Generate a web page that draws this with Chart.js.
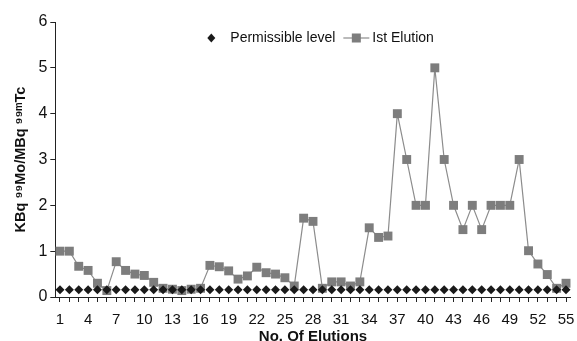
<!DOCTYPE html>
<html>
<head>
<meta charset="utf-8">
<script src="https://cdn.jsdelivr.net/npm/chart.js@4"></script>
<style>
  body { margin: 0; background: #fff; }
  #wrap { width: 577px; height: 341px; }
</style>
</head>
<body>
<div id="wrap"><canvas id="elution-chart"></canvas></div>
<script>
const elutions = [];
for (let i = 1; i <= 55; i++) elutions.push(String(i));

const permissibleLevel = [
    0.16, 0.16, 0.16, 0.16, 0.16, 0.16, 0.16, 0.16, 0.16, 0.16,
    0.16, 0.16, 0.16, 0.16, 0.16, 0.16, 0.16, 0.16, 0.16, 0.16,
    0.16, 0.16, 0.16, 0.16, 0.16, 0.16, 0.16, 0.16, 0.16, 0.16,
    0.16, 0.16, 0.16, 0.16, 0.16, 0.16, 0.16, 0.16, 0.16, 0.16,
    0.16, 0.16, 0.16, 0.16, 0.16, 0.16, 0.16, 0.16, 0.16, 0.16,
    0.16, 0.16, 0.16, 0.16, 0.16
];

const firstElution = [
    1.0, 1.0, 0.67, 0.58, 0.3, 0.14, 0.77, 0.58, 0.5, 0.47,
    0.32, 0.19, 0.17, 0.14, 0.17, 0.19, 0.69, 0.66, 0.57, 0.39,
    0.46, 0.65, 0.53, 0.5, 0.42, 0.24, 1.72, 1.65, 0.19, 0.33,
    0.33, 0.24, 0.33, 1.51, 1.3, 1.33, 4.0, 3.0, 2.0, 2.0,
    5.0, 3.0, 2.0, 1.47, 2.0, 1.47, 2.0, 2.0, 2.0, 3.0,
    1.01, 0.72, 0.49, 0.19, 0.3
];

const yTicks = [0, 1, 2, 3, 4, 5, 6];

Chart.defaults.font.family = '"Liberation Sans", Arial, sans-serif';
Chart.defaults.color = '#111';

// legend drawn inside the plot, near the top
const insideLegend = {
    id: 'insideLegend',
    afterDraw(chart) {
        const ctx = chart.ctx;
        const area = chart.chartArea;
        const y = area.top + 16;
        let x = area.left + 156;
        ctx.save();
        ctx.font = '14px "Liberation Sans", Arial, sans-serif';
        ctx.textBaseline = 'middle';

        // diamond
        ctx.fillStyle = '#1a1a1a';
        ctx.beginPath();
        ctx.moveTo(x, y - 4.5);
        ctx.lineTo(x + 4, y);
        ctx.lineTo(x, y + 4.5);
        ctx.lineTo(x - 4, y);
        ctx.closePath();
        ctx.fill();
        ctx.fillStyle = '#111';
        ctx.fillText(chart.data.datasets[0].label, x + 19, y);
        x += 19 + ctx.measureText(chart.data.datasets[0].label).width + 8;

        // line with square
        ctx.strokeStyle = '#8c8c8c';
        ctx.lineWidth = 1.2;
        ctx.beginPath();
        ctx.moveTo(x, y);
        ctx.lineTo(x + 26, y);
        ctx.stroke();
        ctx.fillStyle = '#7d7d7d';
        ctx.fillRect(x + 13 - 4.5, y - 4.5, 9, 9);
        ctx.fillStyle = '#111';
        ctx.fillText(chart.data.datasets[1].label, x + 29, y);
        ctx.restore();
    }
};

new Chart(document.getElementById('elution-chart'), {
    type: 'line',
    data: {
        labels: elutions,
        datasets: [
            {
                label: 'Permissible level',
                data: permissibleLevel,
                showLine: false,
                pointStyle: 'rectRot',
                pointRadius: 4.5,
                backgroundColor: '#1a1a1a',
                borderColor: '#1a1a1a',
                borderWidth: 0
            },
            {
                label: 'Ist Elution',
                data: firstElution,
                borderColor: '#8c8c8c',
                borderWidth: 1.2,
                pointStyle: 'rect',
                pointRadius: 6.3,
                pointBackgroundColor: '#7d7d7d',
                pointBorderColor: '#7d7d7d',
                pointBorderWidth: 0,
                backgroundColor: '#7d7d7d',
                tension: 0
            }
        ]
    },
    options: {
        responsive: true,
        maintainAspectRatio: false,
        animation: false,
        layout: { padding: { top: 22, right: 3, bottom: 0, left: 12 } },
        plugins: {
            legend: { display: false },
            tooltip: { enabled: false }
        },
        scales: {
            x: {
                offset: true,
                afterFit: function (scale) {
                    scale.height = 44;
                    scale.paddingLeft = 0;
                    scale.paddingRight = 0;
                },
                border: { color: '#222', width: 1 },
                grid: { drawOnChartArea: false, drawTicks: true, tickLength: 5, color: '#222', offset: false },
                ticks: {
                    autoSkip: false,
                    maxRotation: 0,
                    padding: 10,
                    font: { size: 15, lineHeight: 1 },
                    callback: function (value, index) {
                        return index % 3 === 0 ? elutions[index] : '';
                    }
                },
                title: {
                    display: true,
                    text: 'No. Of Elutions',
                    font: { size: 15, weight: 'bold', lineHeight: 1 },
                    padding: { top: 0, bottom: -3 }
                }
            },
            y: {
                min: 0,
                max: 6,
                afterBuildTicks: function (axis) {
                    axis.ticks = yTicks.map(v => ({ value: v }));
                },
                border: { color: '#222', width: 1 },
                grid: { drawOnChartArea: false, drawTicks: true, tickLength: 5, color: '#222' },
                ticks: { font: { size: 16 }, padding: 3 },
                title: {
                    display: true,
                    text: 'KBq \u2079\u2079Mo/MBq \u2079\u2079\u1D50Tc',
                    font: { size: 14.5, weight: 'bold' },
                    padding: { top: 0, bottom: 6 }
                }
            }
        }
    },
    plugins: [insideLegend]
});
</script>
</body>
</html>
